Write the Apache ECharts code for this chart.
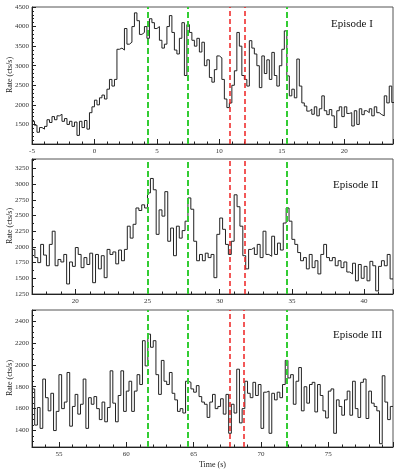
<!DOCTYPE html>
<html>
<head>
<meta charset="utf-8">
<script src="https://cdn.jsdelivr.net/npm/echarts@6/dist/echarts.min.js"></script>
<style>
  html, body { margin: 0; padding: 0; background: #fff; }
  #chart { width: 399px; height: 472px; }
</style>
</head>
<body>
<div id="chart"></div>
<script>
// bin width of the light curves (s)
const binWidth = 0.2

// Episode I : -5 .. 24 s
const start1 = -5
const rates1 = [
  1580, 1480, 1300, 1420, 1380, 1450, 1620, 1550, 1700, 1620,
  1720, 1760, 1580, 1650, 1500, 1580, 1450, 1560, 1220, 1580,
  1420, 1600, 1380, 1800, 1950, 2120, 2000, 2180, 2250, 2150,
  2400, 2650, 2480, 2650, 3420, 3450, 3400, 3950, 3550, 3600,
  4000, 4350, 4150, 3800, 3850, 4000, 3700, 4200, 4100, 3950,
  4000, 3650, 3450, 3550, 4000, 4280, 3850, 3400, 3300, 3700,
  4100, 2750, 4050, 3850, 3650, 3500, 3700, 3350, 3600, 3000,
  3150, 2700, 2580, 2900, 3250, 3200, 2650, 2150, 1930, 2050,
  2500, 2870, 3850, 3500, 2750, 2650, 2480, 3640, 3450, 3300,
  3000, 2440, 3250, 2800, 3150, 2650, 3340, 2750, 2480, 3000,
  3420, 3890, 2740, 2230, 2400, 2180, 3170, 2480, 2050, 1970,
  1840, 1890, 1760, 1950, 1720, 1900, 2230, 1850, 1750, 1880,
  1720, 1420, 1850, 1950, 1700, 1950, 1780, 1800, 1460, 1850,
  1500, 1900, 1750, 1850, 1800, 1900, 1720, 1950, 1800, 1750,
  1720, 2230, 2050, 2480, 2060
]

// Episode II : 17 .. 42 s
const start2 = 17
const rates2 = [
  1960, 1830, 1750, 2040, 1870, 1700, 2040, 2250, 1700, 1800,
  1760, 1880, 1410, 1760, 1690, 1990, 1880, 1670, 1830, 1720,
  1900, 1430, 1880, 1650, 1860, 1510, 1960, 1880, 1920, 1730,
  1950, 1780, 1960, 2330, 2140, 2360, 2620, 2580, 2670, 2620,
  2860, 3090, 2910, 2200, 2590, 2490, 2880, 2090, 2300, 1860,
  2330, 2140, 2260, 2410, 2780, 2600, 2090, 1780, 1880, 1780,
  1900, 1830, 1880, 1510, 2200, 2460, 2280, 2040, 1880, 2090,
  2830, 2640, 2330, 1860, 1650, 1960, 1990, 1880, 2040, 1830,
  2250, 1880, 1850, 2170, 1880, 2060, 1950, 2380, 2620, 2410,
  2120, 2040, 1910, 1780, 1830, 1650, 1880, 1670, 1780, 1570,
  1880, 2040, 1830, 1780, 1830, 1700, 1780, 1670, 1760, 1600,
  1570, 1740, 1460, 1720, 1500, 1690, 1460, 1770, 1700, 1300,
  1690, 1780, 1700, 1880, 1490
]

// Episode III : 53 .. 79.8 s
const start3 = 53
const rates3 = [
  1780, 1450, 1610, 1420, 1870, 1700, 1580, 1740, 1400, 1575,
  1910, 1600, 1660, 1930, 1440, 1620, 1730, 1550, 1640, 1870,
  1420, 1700, 1640, 1710, 1600, 1500, 1660, 1480, 1610, 1945,
  1650, 1480, 1720, 1945, 1575, 1760, 1850, 1575, 1760, 1910,
  1820, 2220, 1990, 2280, 2160, 2220, 1910, 1730, 2040, 1850,
  1820, 1930, 1740, 1680, 1575, 1600, 1560, 1850, 1840, 1780,
  1750, 1810, 1710, 1660, 1640, 1520, 1660, 1730, 1600, 1620,
  1690, 1550, 1730, 1375, 1640, 1560, 1960, 1470, 1600, 1850,
  1740, 1700, 1840, 1720, 1820, 1420, 1750, 1760, 1375, 1740,
  1680, 1750, 1700, 1820, 2040, 1880, 1910, 1640, 1850, 1975,
  1580, 1800, 1650, 1820, 1840, 1570, 1820, 1720, 1580, 1515,
  1760, 1780, 1375, 1680, 1620, 1540, 1680, 1760, 1540, 1850,
  1600, 1520, 1840, 1870, 1510, 1760, 1650, 1620, 1580, 1280,
  1900, 1660, 1500, 1620
]

// dashed markers (s)
const green1 = [4.25, 7.48, 15.37]
const red1 = [10.83, 12.04]
const green2 = [25.0, 27.8, 34.62]
const red2 = [30.72, 31.74]
const green3 = [61.56, 64.55, 71.88]
const red3 = [67.66, 68.74]

const serif = 'Liberation Serif'
const lineColor = '#222'
const plain = (v) => String(v)

function stepData(start, rates) {
  const d = rates.map((v, i) => [+(start + i * binWidth).toFixed(3), v])
  d.push([+(start + rates.length * binWidth).toFixed(3), rates[rates.length - 1]])
  return d
}

function markers(greens, reds) {
  const g = greens.map((x) => ({ xAxis: x, lineStyle: { color: '#33cc33', width: 2, type: [6, 3] } }))
  const r = reds.map((x) => ({ xAxis: x, lineStyle: { color: '#ee2222', width: 1.5, type: [5, 3] } }))
  return g.concat(r)
}

function tickLabel(extra) {
  return Object.assign({ fontFamily: serif, fontSize: 7, color: '#333', formatter: plain }, extra)
}

function xAxisOf(idx, min, max, opts) {
  return Object.assign({
    type: 'value',
    gridIndex: idx,
    min: min,
    max: max,
    axisLine: { onZero: false, lineStyle: { color: '#222', width: 1 } },
    axisTick: { inside: true, length: 5, lineStyle: { color: '#222' } },
    minorTick: { show: true, splitNumber: 5, length: 2.5, lineStyle: { color: '#222' } },
    splitLine: { show: false },
    axisLabel: tickLabel({ margin: 4, showMaxLabel: false })
  }, opts)
}

function yAxisOf(idx, min, max, minor, opts) {
  return Object.assign({
    type: 'value',
    gridIndex: idx,
    min: min,
    max: max,
    axisLine: { show: true, onZero: false, lineStyle: { color: '#222', width: 1 } },
    axisTick: { inside: true, length: 4, lineStyle: { color: '#222' } },
    minorTick: { show: true, splitNumber: minor, length: 2, lineStyle: { color: '#222' } },
    splitLine: { show: false },
    axisLabel: tickLabel({ margin: 3 })
  }, opts)
}

function curve(idx, start, rates, greens, reds) {
  return {
    type: 'line',
    xAxisIndex: idx,
    yAxisIndex: idx,
    step: 'end',
    symbol: 'none',
    silent: true,
    data: stepData(start, rates),
    lineStyle: { color: lineColor, width: 1 },
    markLine: {
      silent: true,
      symbol: 'none',
      label: { show: false },
      animation: false,
      data: markers(greens, reds)
    }
  }
}

// rotated y title, drawn by hand
function rateTitle(cy) {
  return {
    type: 'text', x: 10, y: cy, rotation: Math.PI / 2,
    style: { text: 'Rate (cts/s)', font: '8px "Liberation Serif"', fill: '#222', align: 'center', verticalAlign: 'middle' }
  }
}

const gridBase = { left: 32, right: 6, show: true, borderColor: '#555', borderWidth: 1, outerBoundsMode: 'none', containLabel: false }

const chart = echarts.init(document.getElementById('chart'))
chart.setOption({
  animation: false,
  grid: [
    Object.assign({ top: 7, height: 137 }, gridBase),
    Object.assign({ top: 159, height: 135 }, gridBase),
    Object.assign({ top: 310, height: 137 }, gridBase)
  ],
  xAxis: [
    xAxisOf(0, -5, 23.9, { interval: 5 }),
    xAxisOf(1, 17, 42, { splitNumber: 5, axisLabel: tickLabel({ margin: 4, showMinLabel: false, showMaxLabel: false }) }),
    xAxisOf(2, 53, 79.8, {
      splitNumber: 5,
      name: 'Time (s)',
      nameLocation: 'middle',
      nameGap: 14,
      nameTextStyle: { fontFamily: serif, fontSize: 8, color: '#222' },
      axisLabel: tickLabel({ margin: 4, showMinLabel: false, showMaxLabel: false })
    })
  ],
  yAxis: [
    yAxisOf(0, 1000, 4500, 5, { interval: 500, axisLabel: tickLabel({ margin: 3, showMinLabel: false }) }),
    yAxisOf(1, 1250, 3400, 2, { interval: 250, axisLabel: tickLabel({ margin: 3, showMaxLabel: false }) }),
    yAxisOf(2, 1250, 2500, 4, { splitNumber: 6, axisLabel: tickLabel({ margin: 3, showMinLabel: false, showMaxLabel: false }) })
  ],
  graphic: [
    rateTitle(75),
    rateTitle(226),
    rateTitle(378),
    { type: 'text', left: 331, top: 19, style: { text: 'Episode I', font: '11px "Liberation Serif"', fill: '#111' } },
    { type: 'text', left: 333, top: 180, style: { text: 'Episode II', font: '11px "Liberation Serif"', fill: '#111' } },
    { type: 'text', left: 333, top: 330, style: { text: 'Episode III', font: '11px "Liberation Serif"', fill: '#111' } }
  ],
  series: [
    curve(0, start1, rates1, green1, red1),
    curve(1, start2, rates2, green2, red2),
    curve(2, start3, rates3, green3, red3)
  ]
})
</script>
</body>
</html>
